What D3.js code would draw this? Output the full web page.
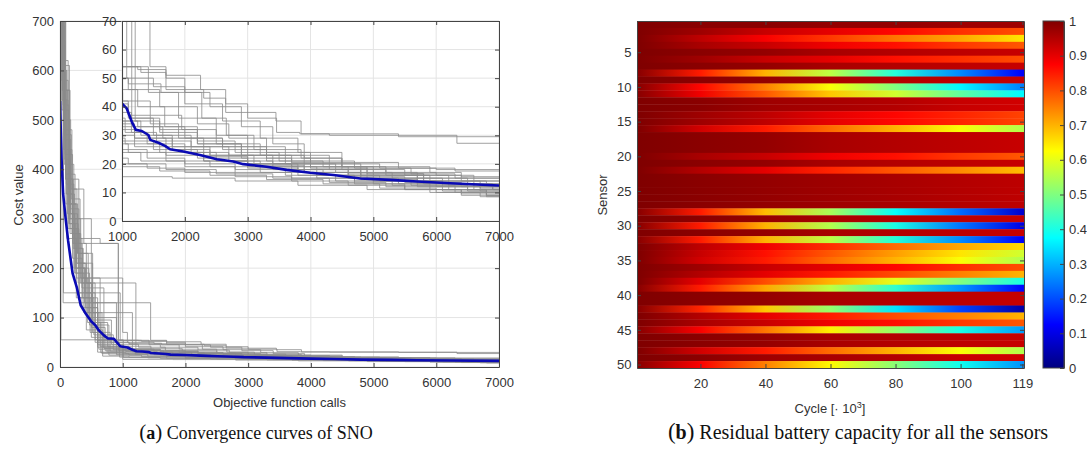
<!DOCTYPE html>
<html>
<head>
<meta charset="utf-8">
<script src="https://cdn.jsdelivr.net/npm/d3@7"></script>
<style>
  body { margin: 0; background: #fff; }
  svg { display: block; font-family: "Liberation Sans", Arial, sans-serif; }
  .ax text { font-size: 13px; fill: #333; }
  .lab { font-size: 13px; fill: #333; }
  .cap { font-family: "Liberation Serif", "Times New Roman", serif; font-size: 18px; fill: #111; }
</style>
</head>
<body>
<svg id="fig" width="1087" height="451"></svg>
<script>
// ---- (a) convergence curves ----
const callTicks = [0, 1000, 2000, 3000, 4000, 5000, 6000, 7000];
const costTicks = [0, 100, 200, 300, 400, 500, 600, 700];
const zoomCallTicks = [1000, 2000, 3000, 4000, 5000, 6000, 7000];
const zoomCostTicks = [0, 10, 20, 30, 40, 50, 60, 70];

// each run: [function calls, best cost] step points
const runs = [
  [[0,980],[50,610],[150,380],[300,210],[520,95],[820,46],[1250,40],[1680,33],[2200,27],[2900,22],[3700,19],[4600,16.5],[5800,15],[6600,14]],
  [[0,870],[30,520],[110,260],[260,140],[480,70],[700,38],[1150,33],[1500,30],[2100,26],[2700,23],[3400,20],[4300,18],[5200,16],[6200,12.5]],
  [[0,760],[80,430],[200,250],[350,120],[600,54],[1300,52],[1700,46],[2300,43],[2650,38],[3450,35],[3850,30.5],[5400,29.5]],
  [[0,1100],[20,700],[90,390],[240,300],[500,130],[900,50],[1100,48],[1620,45],[2270,36],[2660,30],[3100,25],[3850,22],[4500,19],[5900,17],[6400,15.5]],
  [[0,820],[60,480],[190,360],[380,250],[930,34],[1200,29],[1800,25],[2400,22.5],[3000,20],[3800,18],[4800,16],[5700,14],[6800,13]],
  [[0,1200],[25,690],[70,410],[220,200],[400,110],[620,36],[1050,31],[1400,27],[2000,24],[2500,21],[3200,19],[4100,16],[5000,14],[6100,12],[6900,11]],
  [[0,900],[40,560],[160,300],[330,170],[560,90],[760,41],[1100,37],[1450,34],[1900,29],[2600,25],[3300,21],[4000,18.5],[4900,15],[5800,13],[6700,11.5]],
  [[0,720],[50,130],[1445,54],[1700,50],[2000,45],[2400,40],[2900,33],[3400,27],[3900,22],[4500,19],[5200,17],[6000,16],[6600,15]],
  [[0,850],[55,150],[960,54],[1420,45],[1900,36],[2500,30],[3000,26],[3600,23],[4300,20],[5100,18.5],[6000,18]],
  [[0,700],[15,55],[800,50],[1100,46],[1600,40],[2200,34],[2700,29],[3300,24],[4000,21],[4700,18.5],[5600,16.5],[6300,15]],
  [[0,950],[35,600],[100,350],[200,220],[350,160],[700,38],[1000,35],[1300,30],[1800,26],[2400,23],[3100,20],[3900,17],[4800,14.5],[5700,12],[6500,10.5]],
  [[0,1000],[45,540],[130,280],[300,150],[500,60],[750,30],[1200,26],[1700,23],[2300,21],[3000,19],[3800,17],[4600,15],[5400,13],[6200,11],[6800,10]],
  [[0,780],[70,460],[170,310],[280,230],[450,100],[900,25],[1400,22],[2000,20],[2800,18],[3600,16],[4400,14],[5300,12.5],[6300,10]],
  [[0,1050],[30,660],[80,440],[190,270],[330,180],[640,42],[1100,36],[1600,31],[2200,28],[2800,24],[3500,21],[4200,19],[5000,16],[5900,14],[6700,12]],
  [[0,880],[55,500],[150,290],[240,200],[410,120],[600,30],[1000,28],[1500,25],[2200,22],[3000,19.5],[3900,17],[4800,15],[5700,13],[6600,11]],
  [[0,920],[25,580],[95,330],[250,190],[470,85],[780,24],[1300,21],[2000,19],[2800,17],[3700,15],[4700,13],[5500,11],[6400,9.5]],
  [[0,700],[90,380],[210,240],[360,140],[540,65],[850,35],[1250,33],[1650,29],[2300,26],[3000,23],[3700,20.5],[4500,18],[5500,16],[6400,14]],
  [[0,1150],[40,620],[130,360],[270,210],[420,75],[680,22],[1100,20],[1700,18],[2500,16.5],[3400,15],[4300,13.5],[5200,12],[6100,10.5],[6800,9]],
  [[0,830],[65,470],[180,340],[320,260],[640,250],[930,54],[1250,53],[1700,51],[2250,46],[2650,41],[3000,36],[3460,31],[3830,30.5],[4300,30],[6330,27.2]],
  [[0,990],[35,560],[120,310],[230,190],[380,110],[560,50],[950,20],[1400,18.5],[2000,17],[2800,15.5],[3700,14],[4600,12.5],[5500,11],[6400,9]],
  [[0,870],[50,520],[140,290],[290,170],[500,80],[720,33],[1150,31],[1550,28],[2100,24],[2700,21],[3400,18],[4200,16],[5100,14],[6000,12],[6700,10.5]],
  [[0,940],[20,650],[75,420],[160,270],[310,140],[600,45],[1010,42],[1450,37],[1950,32],[2500,27],[3200,23],[3900,20],[4800,17],[5700,15],[6500,13]],
  [[0,810],[60,500],[170,320],[300,200],[460,110],[670,27],[1100,24],[1700,21],[2400,19],[3200,17],[4100,15],[5000,13],[5900,11],[6800,8.5]],
  [[0,1080],[35,600],[110,350],[230,240],[370,180],[1000,70],[1075,50],[1500,47],[2000,41],[2600,35],[3200,29],[3800,24],[4500,20.5],[5400,18.5],[6300,17.5]],
  [[0,900],[45,560],[150,330],[280,230],[520,110],[1155,36],[1500,33],[2000,29],[2600,26],[3300,22],[4000,19],[4900,16.5],[5800,14],[6600,12]],
  [[0,860],[30,540],[100,370],[220,250],[420,170],[1210,35],[1600,32],[2200,27],[2900,23],[3600,20],[4400,17],[5300,15],[6100,13],[6900,11]],
  [[0,760],[60,440],[160,280],[260,210],[400,150],[560,55],[1010,19],[1600,17.5],[2400,16],[3300,14.5],[4200,13],[5100,11.5],[6000,10],[6700,8.5]],
  [[0,1000],[40,580],[130,330],[260,180],[440,90],[650,29],[1050,27],[1600,24],[2300,21],[3000,18.5],[3800,16],[4700,14],[5600,12.5],[6500,11]],
  [[0,890],[50,530],[140,300],[250,200],[390,130],[600,40],[1000,15.5],[1800,15],[2800,14],[3800,12.5],[4900,11],[5900,10],[6800,9]],
  [[0,970],[30,610],[90,380],[200,260],[350,170],[520,70],[800,32],[1200,29],[1700,26],[2300,23],[3000,20],[3700,18],[4600,15.5],[5500,13.5],[6400,12]]
];

// mean convergence (blue)
const meanCurve = [
  [0,538],[25,420],[50,350],[90,300],[130,255],[200,190],[270,160],[330,125],[400,110],[500,92],
  [560,85],[620,74],[700,64],[760,58],[860,57],[960,42],[1005,41],[1075,39.4],[1155,34.8],[1220,31.9],
  [1315,31.5],[1420,30.1],[1450,28.4],[1580,27.4],[1685,26.3],[1765,25.1],[1975,24.3],[2240,23.1],
  [2510,21.6],[2770,20.8],[2930,19.9],[3300,19.0],[3620,17.9],[3995,16.9],[4365,16.1],[4790,14.9],
  [5270,14.4],[5695,13.8],[6225,13.2],[7000,12.4]
];

// ---- (b) residual battery capacity ----
const sampleCycles = [1, 20, 40, 60, 80, 100, 119];
const capacity = [
  [1.00,0.99,0.99,0.98,0.98,0.97,0.97],
  [1.00,0.97,0.93,0.90,0.87,0.83,0.80],
  [1.00,0.94,0.88,0.82,0.76,0.71,0.65],
  [1.00,0.96,0.93,0.89,0.86,0.82,0.79],
  [1.00,0.99,0.98,0.96,0.95,0.94,0.93],
  [1.00,0.97,0.93,0.90,0.86,0.83,0.80],
  [1.00,0.99,0.98,0.96,0.95,0.94,0.93],
  [0.99,0.85,0.70,0.56,0.41,0.26,0.12],
  [1.00,0.99,0.98,0.96,0.95,0.94,0.93],
  [0.99,0.87,0.75,0.62,0.50,0.37,0.25],
  [0.99,0.89,0.79,0.68,0.58,0.47,0.37],
  [1.00,0.99,0.97,0.96,0.95,0.93,0.92],
  [1.00,0.99,0.97,0.96,0.95,0.93,0.92],
  [1.00,0.97,0.94,0.90,0.87,0.84,0.81],
  [1.00,0.97,0.94,0.90,0.87,0.84,0.81],
  [1.00,0.92,0.85,0.77,0.70,0.62,0.55],
  [1.00,0.99,0.98,0.96,0.95,0.94,0.93],
  [1.00,0.99,0.98,0.96,0.95,0.94,0.93],
  [1.00,0.99,0.98,0.96,0.95,0.94,0.93],
  [1.00,0.96,0.93,0.89,0.86,0.82,0.79],
  [1.00,0.99,0.98,0.96,0.95,0.94,0.93],
  [1.00,0.95,0.90,0.84,0.79,0.74,0.69],
  [1.00,0.99,0.98,0.97,0.96,0.95,0.94],
  [1.00,0.99,0.98,0.97,0.96,0.95,0.94],
  [1.00,0.99,0.98,0.97,0.96,0.95,0.94],
  [1.00,0.99,0.98,0.97,0.96,0.95,0.94],
  [1.00,0.99,0.98,0.97,0.96,0.95,0.94],
  [0.99,0.85,0.69,0.54,0.38,0.23,0.08],
  [1.00,0.99,0.98,0.96,0.95,0.94,0.93],
  [0.99,0.85,0.70,0.55,0.40,0.24,0.10],
  [1.00,0.99,0.98,0.96,0.95,0.94,0.93],
  [0.99,0.85,0.70,0.56,0.41,0.26,0.12],
  [1.00,0.94,0.89,0.83,0.77,0.71,0.66],
  [1.00,0.93,0.86,0.79,0.72,0.65,0.58],
  [1.00,0.92,0.85,0.77,0.70,0.62,0.55],
  [1.00,0.97,0.93,0.90,0.87,0.83,0.80],
  [1.00,0.95,0.90,0.85,0.80,0.75,0.70],
  [1.00,0.90,0.80,0.70,0.60,0.50,0.40],
  [0.99,0.85,0.71,0.56,0.42,0.27,0.13],
  [1.00,0.99,0.98,0.96,0.95,0.94,0.93],
  [1.00,0.99,0.98,0.96,0.95,0.94,0.93],
  [0.99,0.84,0.68,0.52,0.35,0.19,0.04],
  [1.00,0.95,0.90,0.85,0.80,0.75,0.70],
  [1.00,0.96,0.93,0.89,0.86,0.82,0.79],
  [0.99,0.88,0.76,0.64,0.52,0.40,0.28],
  [1.00,0.99,0.98,0.96,0.95,0.94,0.93],
  [1.00,0.99,0.98,0.96,0.95,0.94,0.93],
  [1.00,0.92,0.85,0.77,0.70,0.62,0.55],
  [1.00,0.99,0.97,0.96,0.95,0.93,0.92],
  [0.99,0.88,0.75,0.63,0.51,0.39,0.27]
];
const cycleTicks = [20, 40, 60, 80, 100, 119];
const sensorTicks = [5, 10, 15, 20, 25, 30, 35, 40, 45, 50];
const capTicks = [0, 0.1, 0.2, 0.3, 0.4, 0.5, 0.6, 0.7, 0.8, 0.9, 1];

const svg = d3.select('#fig');
const defs = svg.append('defs');

// matlab jet
const cl = v => Math.max(0, Math.min(1, v));
const jet = t => d3.rgb(255*cl(1.5-Math.abs(4*t-3)), 255*cl(1.5-Math.abs(4*t-2)), 255*cl(1.5-Math.abs(4*t-1))).formatHex();
const color = d3.scaleSequential(jet).domain([0, 1]);

function grid(g, x, y, xt, yt) {
  const [xa, xb] = x.range(), [ya, yb] = y.range();
  g.append('g').selectAll('line').data(xt).join('line')
    .attr('x1', d => x(d)).attr('x2', d => x(d)).attr('y1', ya).attr('y2', yb)
    .attr('stroke', '#e4e4e4').attr('stroke-width', 1);
  g.append('g').selectAll('line').data(yt).join('line')
    .attr('x1', xa).attr('x2', xb).attr('y1', d => y(d)).attr('y2', d => y(d))
    .attr('stroke', '#e4e4e4').attr('stroke-width', 1);
}

function frame(g, x, y, xt, yt, xf, yf, padX, padY) {
  const [xa, xb] = x.range();
  const ylo = d3.max(y.range()), yhi = d3.min(y.range());
  const st = a => a.attr('class', 'ax').attr('font-size', null).attr('font-family', null)
    .call(s => s.select('.domain').attr('stroke', '#444'))
    .call(s => s.selectAll('.tick line').attr('stroke', '#444'));
  g.append('g').attr('transform', `translate(0,${ylo})`)
    .call(d3.axisBottom(x).tickValues(xt).tickFormat(xf).tickSize(-4).tickSizeOuter(0).tickPadding(padX)).call(st);
  g.append('g').attr('transform', `translate(0,${yhi})`)
    .call(d3.axisTop(x).tickValues(xt).tickFormat('').tickSize(-4).tickSizeOuter(0)).call(st);
  g.append('g').attr('transform', `translate(${xa},0)`)
    .call(d3.axisLeft(y).tickValues(yt).tickFormat(yf).tickSize(-4).tickSizeOuter(0).tickPadding(padY)).call(st);
  g.append('g').attr('transform', `translate(${xb},0)`)
    .call(d3.axisRight(y).tickValues(yt).tickFormat('').tickSize(-4).tickSizeOuter(0)).call(st);
}

function clip(id, x, y) {
  const [xa, xb] = x.range(), ys = y.range();
  defs.append('clipPath').attr('id', id).append('rect')
    .attr('x', xa).attr('y', d3.min(ys)).attr('width', xb - xa).attr('height', Math.abs(ys[1] - ys[0]));
}

function curves(g, x, y, cid) {
  const step = d3.line().curve(d3.curveStepAfter).x(d => x(d[0])).y(d => y(d[1]));
  const smooth = d3.line().x(d => x(d[0])).y(d => y(d[1]));
  const cg = g.append('g').attr('clip-path', `url(#${cid})`);
  cg.selectAll('.run').data(runs).join('path').attr('class', 'run')
    .attr('d', r => step(r.concat([[7000, r[r.length - 1][1]]])))
    .attr('fill', 'none').attr('stroke', '#8c8c8c').attr('stroke-width', 0.9).attr('opacity', 0.9);
  cg.append('path').attr('d', smooth(meanCurve))
    .attr('fill', 'none').attr('stroke', '#0a0ab4').attr('stroke-width', 2.6).attr('stroke-linejoin', 'round');
}

// ---------- panel (a) ----------
const xM = d3.scaleLinear().domain([0, 7000]).range([60, 499]);
const yM = d3.scaleLinear().domain([0, 700]).range([367, 21]);
const xI = d3.scaleLinear().domain([1000, 7000]).range([122, 499]);
const yI = d3.scaleLinear().domain([0, 70]).range([221, 21]);
const fmt = d3.format('d');

const gA = svg.append('g');
clip('clipM', xM, yM);
clip('clipI', xI, yI);
gA.append('rect').attr('x', 60).attr('y', 21).attr('width', 439).attr('height', 346).attr('fill', '#fff');
grid(gA, xM, yM, callTicks, costTicks);
curves(gA, xM, yM, 'clipM');
frame(gA, xM, yM, callTicks, costTicks, fmt, fmt, 11, 6);

gA.append('text').attr('class', 'lab').attr('x', xM(3500)).attr('y', 407).attr('text-anchor', 'middle')
  .text('Objective function calls');
gA.append('text').attr('class', 'lab').attr('transform', 'translate(23,195) rotate(-90)').attr('text-anchor', 'middle')
  .text('Cost value');

// inset
const gI = svg.append('g');
gI.append('rect').attr('x', 122).attr('y', 21).attr('width', 377).attr('height', 200).attr('fill', '#fff');
grid(gI, xI, yI, zoomCallTicks, zoomCostTicks);
curves(gI, xI, yI, 'clipI');
frame(gI, xI, yI, zoomCallTicks, zoomCostTicks, fmt, fmt, 10.5, 5.5);

// ---------- panel (b) ----------
const xH = d3.scaleLinear().domain([0.5, 119.5]).range([637, 1024]);
const yH = d3.scaleLinear().domain([0.5, 50.5]).range([21, 368]);
const gB = svg.append('g');

capacity.forEach((row, i) => {
  const gr = defs.append('linearGradient').attr('id', `cap${i}`)
    .attr('gradientUnits', 'userSpaceOnUse')
    .attr('x1', xH(sampleCycles[0])).attr('x2', xH(sampleCycles[sampleCycles.length - 1]))
    .attr('y1', 0).attr('y2', 0);
  gr.selectAll('stop').data(row).join('stop')
    .attr('offset', (v, j) => (sampleCycles[j] - sampleCycles[0]) / (sampleCycles[sampleCycles.length - 1] - sampleCycles[0]))
    .attr('stop-color', v => color(v));
});

gB.selectAll('.row').data(capacity).join('rect').attr('class', 'row')
  .attr('x', xH(0.5)).attr('width', xH(119.5) - xH(0.5))
  .attr('y', (d, i) => yH(i + 0.5)).attr('height', (d, i) => yH(i + 1.5) - yH(i + 0.5) + 0.4)
  .attr('fill', (d, i) => `url(#cap${i})`);

frame(gB, xH, yH, cycleTicks, sensorTicks, fmt, fmt, 11, 5.5);

gB.append('text').attr('class', 'lab').attr('transform', 'translate(607,195) rotate(-90)').attr('text-anchor', 'middle')
  .text('Sensor');
const cyc = gB.append('text').attr('class', 'lab').attr('x', 830).attr('y', 413).attr('text-anchor', 'middle');
cyc.append('tspan').text('Cycle [· 10');
cyc.append('tspan').attr('dy', -5).style('font-size', '9px').text('3');
cyc.append('tspan').attr('dy', 5).text(']');

// colorbar
const yC = d3.scaleLinear().domain([0, 1]).range([368, 21]);
const cb = defs.append('linearGradient').attr('id', 'jetbar').attr('x1', 0).attr('x2', 0).attr('y1', 1).attr('y2', 0);
cb.selectAll('stop').data([0, 0.125, 0.375, 0.625, 0.875, 1]).join('stop')
  .attr('offset', d => d).attr('stop-color', d => color(d));
gB.append('rect').attr('x', 1043).attr('y', 21).attr('width', 21).attr('height', 347).attr('fill', 'url(#jetbar)')
  .attr('stroke', '#444').attr('stroke-width', 1);
gB.append('g').attr('transform', 'translate(1064,0)')
  .call(d3.axisRight(yC).tickValues(capTicks).tickFormat(d => String(+d.toFixed(1))).tickSize(-4).tickSizeOuter(0).tickPadding(5))
  .attr('class', 'ax').attr('font-size', null).attr('font-family', null)
  .call(s => s.select('.domain').attr('stroke', '#444'))
  .call(s => s.selectAll('.tick line').attr('stroke', '#444'));

// captions
function caption(x, size, letter, rest) {
  const t = svg.append('text').attr('class', 'cap').attr('x', x).attr('y', 439)
    .attr('text-anchor', 'middle').style('font-size', size + 'px');
  t.append('tspan').style('font-size', (size + 3) + 'px').text('(');
  t.append('tspan').style('font-weight', 'bold').text(letter);
  t.append('tspan').style('font-size', (size + 3) + 'px').text(')');
  t.append('tspan').text(' ' + rest);
}
caption(256, 18, 'a', 'Convergence curves of SNO');
caption(858, 20, 'b', 'Residual battery capacity for all the sensors');
</script>
</body>
</html>
